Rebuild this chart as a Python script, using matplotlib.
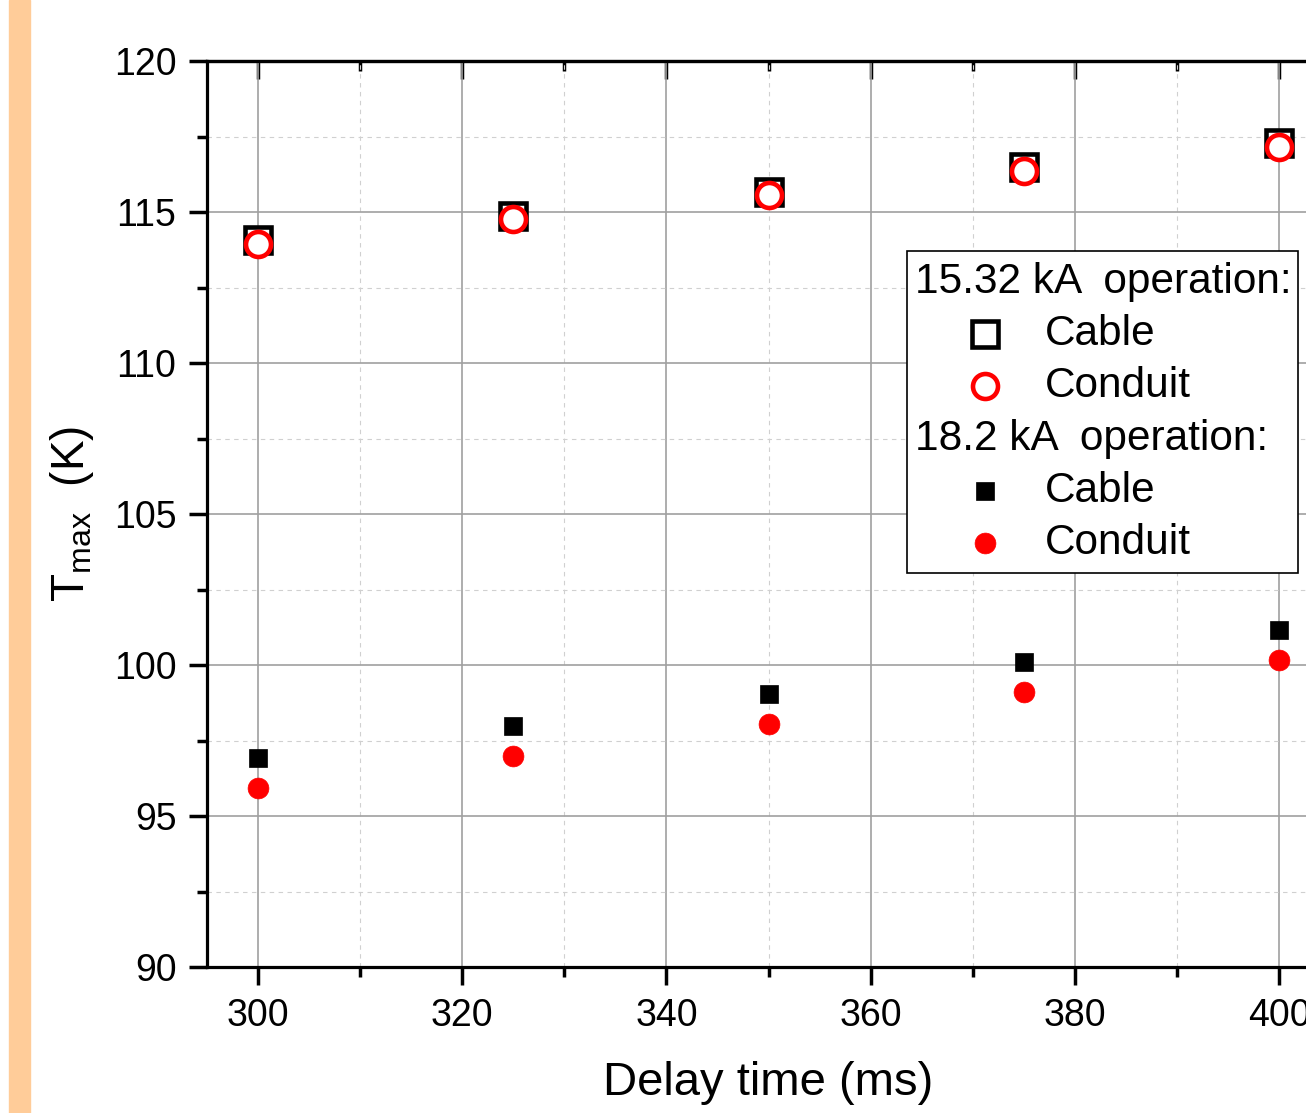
import numpy as np
import matplotlib
matplotlib.use("Agg")
import matplotlib.pyplot as plt
from matplotlib.lines import Line2D
from matplotlib.patches import Rectangle
from matplotlib.ticker import MultipleLocator

plt.rcParams['font.family'] = ['Liberation Sans', 'DejaVu Sans']
plt.rcParams['mathtext.fontset'] = 'custom'
plt.rcParams['mathtext.rm'] = 'Liberation Sans'

# Données
delay = [300, 325, 350, 375, 400]
cable_1532 = [114.07, 114.87, 115.66, 116.49, 117.28]
conduit_1532 = [113.94, 114.77, 115.56, 116.36, 117.15]
cable_182 = [96.92, 97.98, 99.04, 100.10, 101.16]
conduit_182 = [95.93, 96.99, 98.05, 99.11, 100.17]

W, H = 1306, 1113
fig = plt.figure(figsize=(W / 100, H / 100), dpi=100)

# bande orange à gauche
fig.add_artist(Rectangle((9 / W, 0), 21 / W, 1, transform=fig.transFigure,
                         color='#FFCC99', zorder=0))

ax = fig.add_axes([207 / W, (H - 967) / H, 1123 / W, 906 / H])

# séries
open_sq = dict(marker='s', ms=19, mfc='white', mec='black', mew=3.3)
open_ci = dict(marker='o', ms=18, mfc='white', mec='red', mew=3.3)
full_sq = dict(marker='s', ms=13.5, mfc='black', mec='black', mew=0.5)
full_ci = dict(marker='o', ms=15, mfc='red', mec='red', mew=0.5)

ax.plot(delay, cable_1532, ls='none', zorder=5, clip_on=False, **open_sq)
ax.plot(delay, conduit_1532, ls='none', zorder=6, clip_on=False, **open_ci)
ax.plot(delay, cable_182, ls='none', zorder=5, **full_sq)
ax.plot(delay, conduit_182, ls='none', zorder=5, **full_ci)

ax.set_xlim(295, 405)
ax.set_ylim(90, 120)
ax.xaxis.set_major_locator(MultipleLocator(20))
ax.xaxis.set_minor_locator(MultipleLocator(10))
ax.yaxis.set_major_locator(MultipleLocator(5))
ax.yaxis.set_minor_locator(MultipleLocator(2.5))

# grille
ax.grid(which='major', color='#a0a0a0', lw=1.2, zorder=1)
ax.grid(which='minor', color='#d0d0d0', lw=0.8, ls=(0, (4, 4)), zorder=1)
ax.set_axisbelow(True)

for s in ax.spines.values():
    s.set_linewidth(2.3)
ax.tick_params(which='major', direction='out', length=13, width=2.5,
               labelsize=27, pad=9, top=False, right=False)
ax.tick_params(which='minor', direction='out', length=7, width=2.5,
               top=False, right=False)

# axe du haut (graduations vers l'intérieur)
sx = ax.secondary_xaxis('top')
sx.xaxis.set_major_locator(MultipleLocator(20))
sx.xaxis.set_minor_locator(MultipleLocator(10))
sx.tick_params(axis='x', which='major', direction='in', length=13, width=2.5,
               labeltop=False)
sx.tick_params(axis='x', which='minor', direction='in', length=7, width=2.5)
sx.spines['top'].set_linewidth(2.3)

ax.set_xlabel('Delay time (ms)', fontsize=34, labelpad=20)
ax.set_ylabel(r'T$_{\mathregular{max}}$  (K)', fontsize=33, labelpad=13)

# légende dessinée à la main
fx = lambda px: px / W
fy = lambda py: 1 - py / H
fig.add_artist(Rectangle((fx(907), fy(573)), fx(1298) - fx(907), fy(251) - fy(573),
                         transform=fig.transFigure, fc='white', ec='black',
                         lw=1.2, zorder=10))
rows = [282, 334, 386, 439, 491, 543]
fig.text(fx(915), fy(rows[0]), '15.32 kA  operation:', fontsize=30.5,
         va='center', ha='left', zorder=11)
fig.text(fx(915), fy(rows[3]), '18.2 kA  operation:', fontsize=30.5,
         va='center', ha='left', zorder=11)
styles = [(1, open_sq, 'Cable'), (2, open_ci, 'Conduit'),
          (4, full_sq, 'Cable'), (5, full_ci, 'Conduit')]
for i, st, lab in styles:
    fig.add_artist(Line2D([fx(985)], [fy(rows[i])], transform=fig.transFigure,
                          ls='none', zorder=11, **st))
    fig.text(fx(1045), fy(rows[i]), lab, fontsize=30.5, va='center', ha='left',
             zorder=11)

fig.savefig('out.png', dpi=100)
